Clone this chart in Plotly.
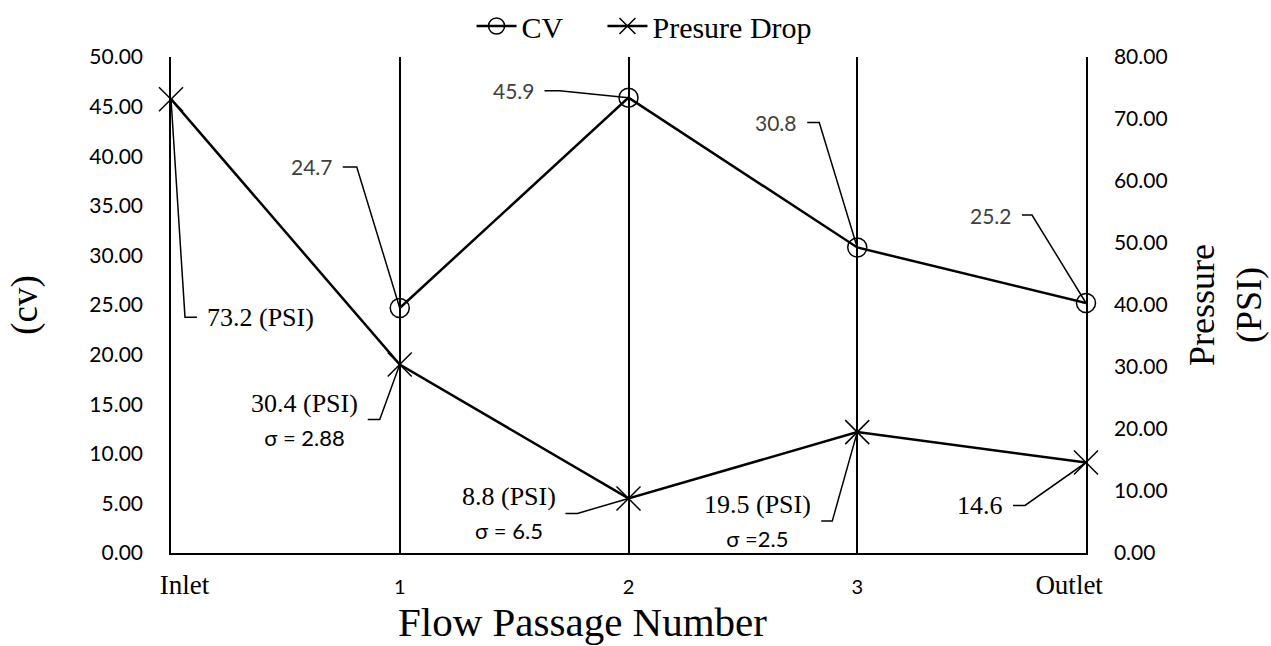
import plotly.graph_objects as go

# ---- data -------------------------------------------------------------
categories = ["Inlet", "1", "2", "3", "Outlet"]
cv_values = [None, 24.7, 45.9, 30.8, 25.2]          # CV (left axis)
pressure_psi = [73.2, 30.4, 8.8, 19.5, 14.6]        # pressure drop (right axis)
pressure_sigma = [None, 2.88, 6.5, 2.5, None]       # std. deviation per passage

cv_ticks = [0, 5, 10, 15, 20, 25, 30, 35, 40, 45, 50]
psi_ticks = [0, 10, 20, 30, 40, 50, 60, 70, 80]

# ---- label styling ----------------------------------------------------
SERIF = "Liberation Serif"
SANS = "Lato"

# leader lines: (bend dx, bend dy, end dx) in pixels from the marker
cv_leaders = [None, (-43, 141, -57), (-69, 7, -84), (-38, 125, -50), (-54, 88, -64)]
psi_leaders = [(14, -218, 26), (-20, -55, -32), (-51, -15, -63), (-25, -89, -36), (-61, -43, -73)]
psi_label_fmt = ["{v} (PSI)", "{v} (PSI)<br>{s}", "{v} (PSI)<br>{s}", "{v} (PSI)<br>{s}", "{v}"]
sigma_sep = ["", " ", " ", "", ""]

x_pos = list(range(len(categories)))


def tick_label(name):
    if name.isdigit():
        return f'<span style="font-family:{SANS};font-size:20px">{name}</span>'
    pad = "&nbsp;" * 4
    return pad + name if name == categories[0] else name + "&nbsp;" * 5


fig = go.Figure()

fig.add_trace(go.Scatter(
    x=x_pos, y=cv_values, name="CV", mode="lines+markers",
    line=dict(color="black", width=2.5),
    marker=dict(symbol="circle-open", size=19, color="black", line=dict(width=1.5)),
    yaxis="y", cliponaxis=False, legend="legend",
))
fig.add_trace(go.Scatter(
    x=x_pos, y=pressure_psi, name="Presure Drop", mode="lines+markers",
    line=dict(color="black", width=2.5),
    marker=dict(symbol="x-thin", size=24, color="black", line=dict(width=1.5, color="black")),
    yaxis="y2", cliponaxis=False, legend="legend2",
))

shapes = []
annotations = []


def add_callout(xi, yv, yref, leader, text, font):
    bx, by, ex = leader
    shapes.append(dict(
        type="path", xref="x", yref=yref,
        xsizemode="pixel", ysizemode="pixel",
        xanchor=xi, yanchor=yv,
        path=f"M 0 0 L {bx} {by} L {ex} {by}",
        line=dict(color="black", width=1.5),
    ))
    left = ex > bx
    annotations.append(dict(
        x=xi, y=yv, xref="x", yref=yref, text=text, showarrow=False,
        xanchor="left" if left else "right", yanchor="middle", align="center",
        xshift=ex + (8 if left else -8), yshift=by, font=font,
    ))


for i, v in enumerate(cv_values):
    if v is None or cv_leaders[i] is None:
        continue
    add_callout(i, v, "y", cv_leaders[i], f"{v:.1f}",
                dict(family=SANS, size=21, color="#404040"))

for i, v in enumerate(pressure_psi):
    s = pressure_sigma[i]
    sig = "" if s is None else f'<span style="font-family:{SANS};font-size:22px">σ ={sigma_sep[i]}{s:g}</span>'
    txt = psi_label_fmt[i].format(v=f"{v:.1f}", s=sig)
    add_callout(i, v, "y2", psi_leaders[i], txt,
                dict(family=SERIF, size=26, color="black"))

# horizontal axis title
annotations.append(dict(
    text="Flow Passage Number", xref="paper", yref="paper",
    x=0.45, y=-0.14, xanchor="center", yanchor="middle", showarrow=False,
    font=dict(family=SERIF, size=41, color="black"),
))

legend_style = dict(
    orientation="h", xanchor="left", y=1.0, yanchor="top",
    xref="container", yref="container",
    font=dict(family=SERIF, size=30, color="black"),
    bgcolor="rgba(0,0,0,0)", itemwidth=40,
)

fig.update_layout(
    width=1271, height=646,
    margin=dict(l=171, r=185, t=57, b=93, autoexpand=False),
    paper_bgcolor="white", plot_bgcolor="white",
    showlegend=True,
    legend=dict(legend_style, x=0.371),
    legend2=dict(legend_style, x=0.474),
    xaxis=dict(
        range=[0, 4], tickvals=x_pos, ticktext=[tick_label(c) for c in categories],
        showgrid=True, gridcolor="black", gridwidth=1.5,
        showline=True, linecolor="black", linewidth=1.5,
        ticks="", ticklabelstandoff=7, zeroline=False, automargin=False,
        tickfont=dict(family=SERIF, size=27, color="black"),
    ),
    yaxis=dict(
        range=[0, 50], tickvals=cv_ticks, tickformat=".2f",
        showgrid=False, zeroline=False, automargin=False,
        showline=True, linecolor="black", linewidth=1.5,
        ticks="", ticklabelstandoff=22,
        tickfont=dict(family=SANS, size=21, color="black"),
        title=dict(text="(cv)", standoff=40,
                   font=dict(family=SERIF, size=37, color="black")),
    ),
    yaxis2=dict(
        range=[0, 80], tickvals=psi_ticks, tickformat=".2f",
        overlaying="y", side="right",
        showgrid=False, zeroline=False, automargin=False,
        showline=True, linecolor="black", linewidth=1.5,
        ticks="", ticklabelstandoff=22,
        tickfont=dict(family=SANS, size=21, color="black"),
        title=dict(text="Pressure<br>(PSI)", standoff=22,
                   font=dict(family=SERIF, size=36, color="black")),
    ),
    shapes=shapes,
    annotations=annotations,
)

fig.write_html("out.html")
